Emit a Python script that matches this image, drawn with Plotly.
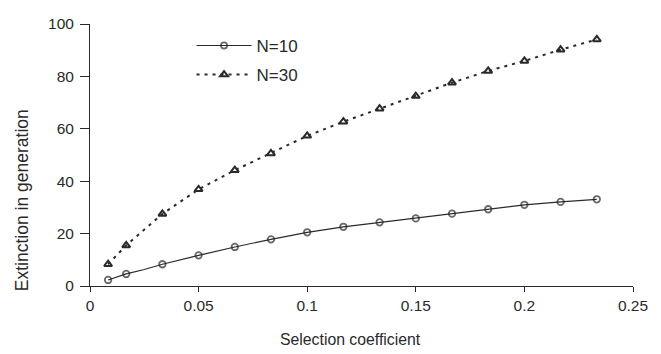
import plotly.graph_objects as go

# Selection coefficient values
x_n10 = [1/120, 1/60, 0.025, 1/30, 0.05, 1/15, 1/12, 0.1, 7/60, 2/15, 0.15, 1/6, 11/60, 0.2, 13/60, 7/30]
y_n10 = [2.3, 4.6, 6.3, 8.3, 11.7, 14.9, 17.8, 20.5, 22.6, 24.3, 25.8, 27.6, 29.3, 31.0, 32.1, 33.1]
marker_shown_n10 = [1, 1, 0, 1, 1, 1, 1, 1, 1, 1, 1, 1, 1, 1, 1, 1]

x_n30 = [1/120, 1/60, 1/30, 0.05, 1/15, 1/12, 0.1, 7/60, 2/15, 0.15, 1/6, 11/60, 0.2, 13/60, 7/30]
y_n30 = [8.3, 15.5, 27.5, 36.9, 44.2, 50.6, 57.3, 62.7, 67.7, 72.5, 77.6, 82.1, 85.9, 90.2, 94.1]

x_ticks = [0, 0.05, 0.1, 0.15, 0.2, 0.25]
x_tick_labels = ["0", "0.05", "0.1", "0.15", "0.2", "0.25"]
y_ticks = [0, 20, 40, 60, 80, 100]

x_title = "Selection coefficient"
y_title = "Extinction in generation"

FONT = "Liberation Sans, Arial, sans-serif"
INK = "#2a2a2a"

fig = go.Figure()
fig.add_trace(go.Scatter(
    x=x_n10, y=y_n10, name="N=10", mode="lines+markers",
    line=dict(color=INK, width=1.2),
    marker=dict(symbol="circle-open", size=[6.5 * m for m in marker_shown_n10],
                color=INK, line=dict(width=1.8, color=INK)),
    cliponaxis=False, legendgroup="a",
))
fig.add_trace(go.Scatter(
    x=x_n30, y=y_n30, name="N=30", mode="lines+markers",
    line=dict(color=INK, width=2, dash="3px,5px"),
    marker=dict(symbol="triangle-up-open", size=7, color=INK,
                line=dict(width=2, color=INK)),
    cliponaxis=False, legendgroup="b",
))

fig.add_annotation(text=x_title, xref="paper", yref="paper", x=0.479, y=-0.206,
                   xanchor="center", yanchor="middle", showarrow=False,
                   font=dict(family=FONT, size=15.8, color=INK))
fig.add_annotation(text=y_title, xref="paper", yref="paper", x=-0.125, y=0.328,
                   xanchor="center", yanchor="middle", showarrow=False, textangle=-90,
                   font=dict(family=FONT, size=17.5, color=INK))

fig.update_layout(
    width=661, height=354,
    margin=dict(l=90, r=28, t=24, b=68),
    paper_bgcolor="white", plot_bgcolor="white",
    font=dict(family=FONT, size=15, color=INK),
    showlegend=True,
    legend=dict(
        x=0.187, y=0.985, xanchor="left", yanchor="top",
        font=dict(family=FONT, size=17, color=INK),
        bgcolor="rgba(0,0,0,0)", itemwidth=55,
        traceorder="grouped", tracegroupgap=4,
    ),
    xaxis=dict(
        range=[0, 0.25], tickvals=x_ticks, ticktext=x_tick_labels,
        showgrid=False, zeroline=False, showline=True, linecolor=INK, linewidth=1,
        ticks="outside", ticklen=5, tickcolor=INK, tickwidth=1,
        tickfont=dict(size=15.5), automargin=False,
    ),
    yaxis=dict(
        range=[0, 100], tickvals=y_ticks,
        showgrid=False, zeroline=False, showline=True, linecolor=INK, linewidth=1,
        ticks="outside", ticklen=9, tickcolor=INK, tickwidth=1,
        tickfont=dict(size=15.5), automargin=False, ticklabelstandoff=3,
    ),
)

fig.write_html("out.html", config={"displayModeBar": False},
               post_script="document.body.style.margin='0px';")
